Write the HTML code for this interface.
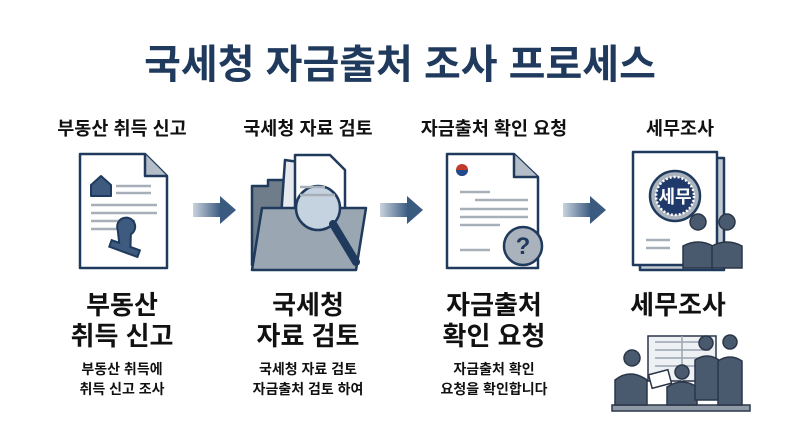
<!DOCTYPE html>
<html><head><meta charset="utf-8"><style>
body{margin:0;background:#fff}
svg{display:block}
text{font-family:"Liberation Sans","Noto Sans CJK KR",sans-serif;font-weight:bold;text-anchor:middle}
</style></head><body>
<svg width="800" height="446" viewBox="0 0 800 446" xmlns="http://www.w3.org/2000/svg">
<defs>
<linearGradient id="ag" x1="0" x2="1"><stop offset="0" stop-color="#c9d3de"/><stop offset="1" stop-color="#3a5a80"/></linearGradient>
</defs>
<text x="400" y="78" font-size="40" fill="#1f3a5c">국세청 자금출처 조사 프로세스</text>
<g font-size="18.5" fill="#111">
<text x="122" y="135">부동산 취득 신고</text>
<text x="308" y="135">국세청 자료 검토</text>
<text x="494" y="135">자금출처 확인 요청</text>
<text x="680" y="135">세무조사</text>
</g>
<g stroke="#1f3a5c" stroke-width="2.5" stroke-linejoin="round">
<path d="M80 154 H145 L167 176 V268 H80 Z" fill="#fff"/>
<path d="M145 154 V176 H167" fill="#b5bec8"/>
<path d="M91 185 L101 176 L111 185 V196 H91 Z" fill="#3e5a7e" stroke-width="2"/>
<path d="M447 154 H514 L538 177 V268 H447 Z" fill="#fff"/>
<path d="M514 154 V177 H538" fill="#b5bec8"/>
<circle cx="523" cy="246" r="19" fill="#aab3bd"/>
<path d="M640 158 H724 V270 H640 Z" fill="#c2c9d1"/>
<path d="M633 152 H717 V265 H633 Z" fill="#fff"/>
<circle cx="675" cy="196" r="25" fill="#aab3bd"/>
<circle cx="675" cy="196" r="19" fill="#1f3a6a" stroke="#fff" stroke-dasharray="2 2"/>
<path d="M252 186 H268 V180 H305 V265 H252 Z" fill="#6f7c8a"/>
<path d="M285 160 L340 168 L330 240 L280 232 Z" fill="#e6eaee"/>
<path d="M295 155 H330 L345 170 V235 H295 Z" fill="#fff"/>
<path d="M262 208 H366 L356 270 H252 Z" fill="#9aa6b2"/>
<circle cx="318" cy="208" r="22" fill="#c5d2df"/>
<path d="M333 224 L356 262" stroke-width="8" stroke-linecap="round"/>
</g>
<g stroke="#a7afb9" stroke-width="2.5">
<path d="M116 186 H151 M116 193 H151 M91 205 H157 M91 213 H157 M91 221 H135 M91 229 H130 M300 187 H325 M300 195 H335"/>
<path d="M460 192 H490 M475 200 H528 M460 209 H528 M460 217 H528 M460 225 H500 M460 250 H490 M646 240 H670 M646 248 H670"/>
</g>
<path d="M113 234 a9 9 0 1 1 14 0 l4 12 h10 v7 h-30 v-7 h8 z" fill="#3e5a7e" stroke="#1f3a5c" stroke-width="2" transform="rotate(20 128 245)"/>
<circle cx="462" cy="170" r="6" fill="#c0392b"/><path d="M456 170 a6 6 0 0 0 12 0 z" fill="#1f4a8c"/>
<text x="675" y="203" font-size="18" fill="#fff">세무</text>
<text x="523" y="254" font-size="24" fill="#1f3a5c">?</text>
<g fill="#4a5a6e" stroke="#2a3648" stroke-width="1.5">
<circle cx="698" cy="222" r="8"/><path d="M683 268 v-22 q15 -8 30 0 v22 z"/>
<circle cx="727" cy="222" r="8"/><path d="M712 268 v-22 q15 -8 30 0 v22 z"/>
</g>
<rect x="193" y="203" width="28" height="14" fill="url(#ag)"/><path d="M220 196 L236 210 L220 224 Z" fill="#3a5a80"/>
<rect x="380" y="203" width="28" height="14" fill="url(#ag)"/><path d="M407 196 L423 210 L407 224 Z" fill="#3a5a80"/>
<rect x="563" y="203" width="28" height="14" fill="url(#ag)"/><path d="M590 196 L606 210 L590 224 Z" fill="#3a5a80"/>
<g font-size="26" fill="#111">
<text x="122" y="314">부동산</text><text x="122" y="345">취득 신고</text>
<text x="308" y="314">국세청</text><text x="308" y="345">자료 검토</text>
<text x="494" y="314">자금출처</text><text x="494" y="345">확인 요청</text>
<text x="678" y="314">세무조사</text>
</g>
<g font-size="14" fill="#111">
<text x="122" y="374">부동산 취득에</text><text x="122" y="394">취득 신고 조사</text>
<text x="308" y="374">국세청 자료 검토</text><text x="308" y="394">자금출처 검토 하여</text>
<text x="494" y="374">자금출처 확인</text><text x="494" y="394">요청을 확인합니다</text>
</g>
<g stroke="#2a3648" stroke-width="1.5">
<rect x="648" y="336" width="68" height="45" fill="#eef1f4"/>
<path d="M655 342 H710 M655 350 H710 M655 358 H710 M655 366 H710 M682 336 V381" stroke="#9aa6b2"/>
<rect x="612" y="405" width="138" height="6" fill="#8f9aa6"/>
<g fill="#4a5a6e">
<circle cx="632" cy="358" r="8"/><path d="M615 405 v-25 q15 -12 32 0 v25 z"/>
<circle cx="682" cy="372" r="7"/><path d="M667 405 v-18 q15 -10 30 0 v18 z"/>
<circle cx="706" cy="343" r="7"/><path d="M695 400 v-40 q12 -8 24 0 v40 z"/>
<circle cx="730" cy="342" r="7"/><path d="M718 405 v-44 q12 -8 24 0 v44 z"/>
</g>
<rect x="650" y="372" width="20" height="14" fill="#fff" transform="rotate(-15 660 379)"/>
</g>
</svg>
</body></html>
